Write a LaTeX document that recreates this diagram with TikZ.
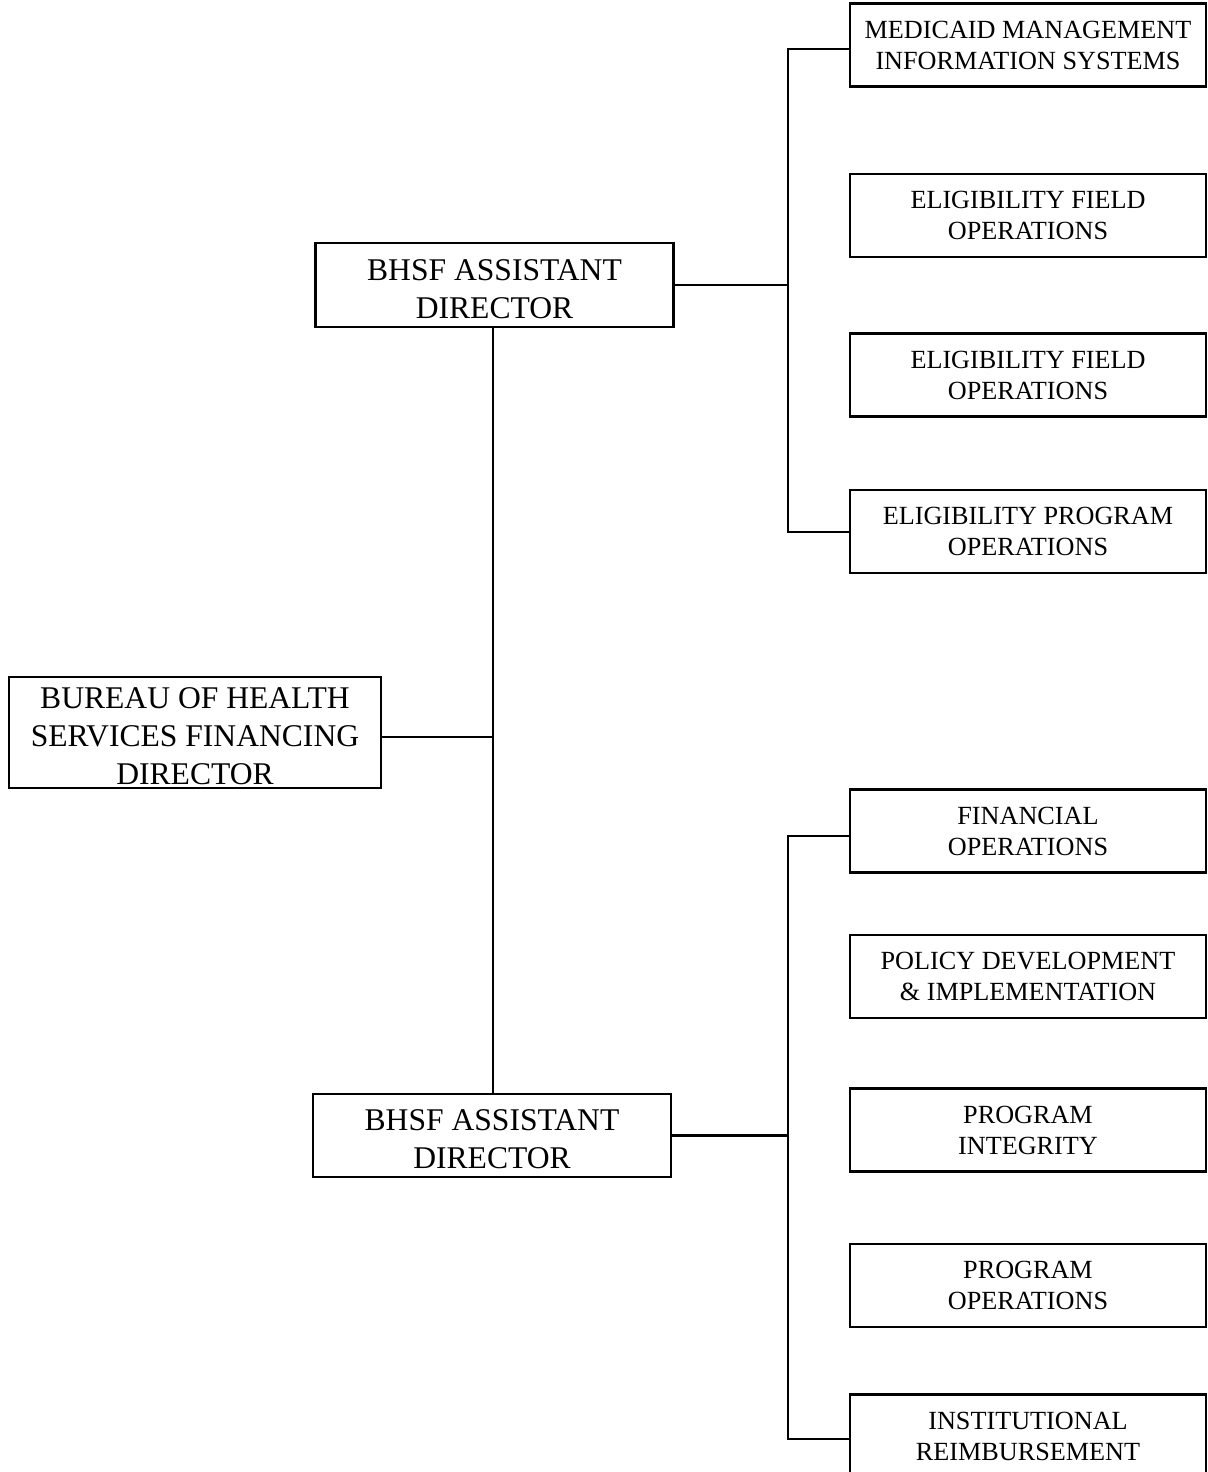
\documentclass[tikz,border=0pt]{standalone}
\usepackage{fontspec}
\setmainfont{Liberation Serif}
\newcommand{\bigstrut}{\rule{0pt}{14.4pt}}
\begin{document}
\begin{tikzpicture}[x=0.5pt,y=-0.5pt,
  box/.style={draw, line width=1.1pt, inner sep=0pt, align=center, anchor=center},
  small/.style={box, minimum width=178pt, minimum height=41.5pt, font=\fontsize{13.1}{15.5}\selectfont},
  big/.style={box, font=\fontsize{15.8}{19}\selectfont},
  link/.style={line width=1.1pt}]
\useasboundingbox (0,0) rectangle (1207,1472);
% left / middle
\node[big, minimum width=186pt, minimum height=55.5pt] (bur) at (195,732.5) {\bigstrut BUREAU OF HEALTH\\SERVICES FINANCING\\DIRECTOR};
\node[big, minimum width=179pt, minimum height=42pt] (adt) at (494.5,285) {\bigstrut BHSF ASSISTANT\\DIRECTOR};
\node[big, minimum width=179pt, minimum height=41.5pt] (adb) at (492,1135.5) {\bigstrut BHSF ASSISTANT\\DIRECTOR};
% right column, top group
\node[small] (b1) at (1028,45) {MEDICAID MANAGEMENT\\INFORMATION SYSTEMS};
\node[small] (b2) at (1028,215.5) {ELIGIBILITY FIELD\\OPERATIONS};
\node[small] (b3) at (1028,375) {ELIGIBILITY FIELD\\OPERATIONS};
\node[small] (b4) at (1028,531.5) {ELIGIBILITY PROGRAM\\OPERATIONS};
% right column, bottom group
\node[small] (b5) at (1028,831) {FINANCIAL\\OPERATIONS};
\node[small] (b6) at (1028,976.5) {POLICY DEVELOPMENT\\\&{} IMPLEMENTATION};
\node[small] (b7) at (1028,1130) {PROGRAM\\INTEGRITY};
\node[small] (b8) at (1028,1285.5) {PROGRAM\\OPERATIONS};
\node[small] (b9) at (1028,1436) {INSTITUTIONAL\\REIMBURSEMENT};
% bus coordinates
\coordinate (tbt) at (788,49);
\coordinate (tbb) at (788,532);
\coordinate (tbm) at (788,285);
\coordinate (bbt) at (788,836);
\coordinate (bbb) at (788,1439);
\coordinate (bbm) at (788,1135.5);
\coordinate (mj) at (493,737);
% connectors
\draw[link] (adt.south -| mj) -- (adb.north -| mj);
\draw[link] (bur.east |- mj) -- (mj);
\draw[link] (adt.east) -- (tbm);
\draw[link] (b1.west |- tbt) -- (tbt) -- (tbb) -- (b4.west |- tbb);
\draw[link] (adb.east) -- (bbm);
\draw[link] (b5.west |- bbt) -- (bbt) -- (bbb) -- (b9.west |- bbb);
\end{tikzpicture}
\end{document}
